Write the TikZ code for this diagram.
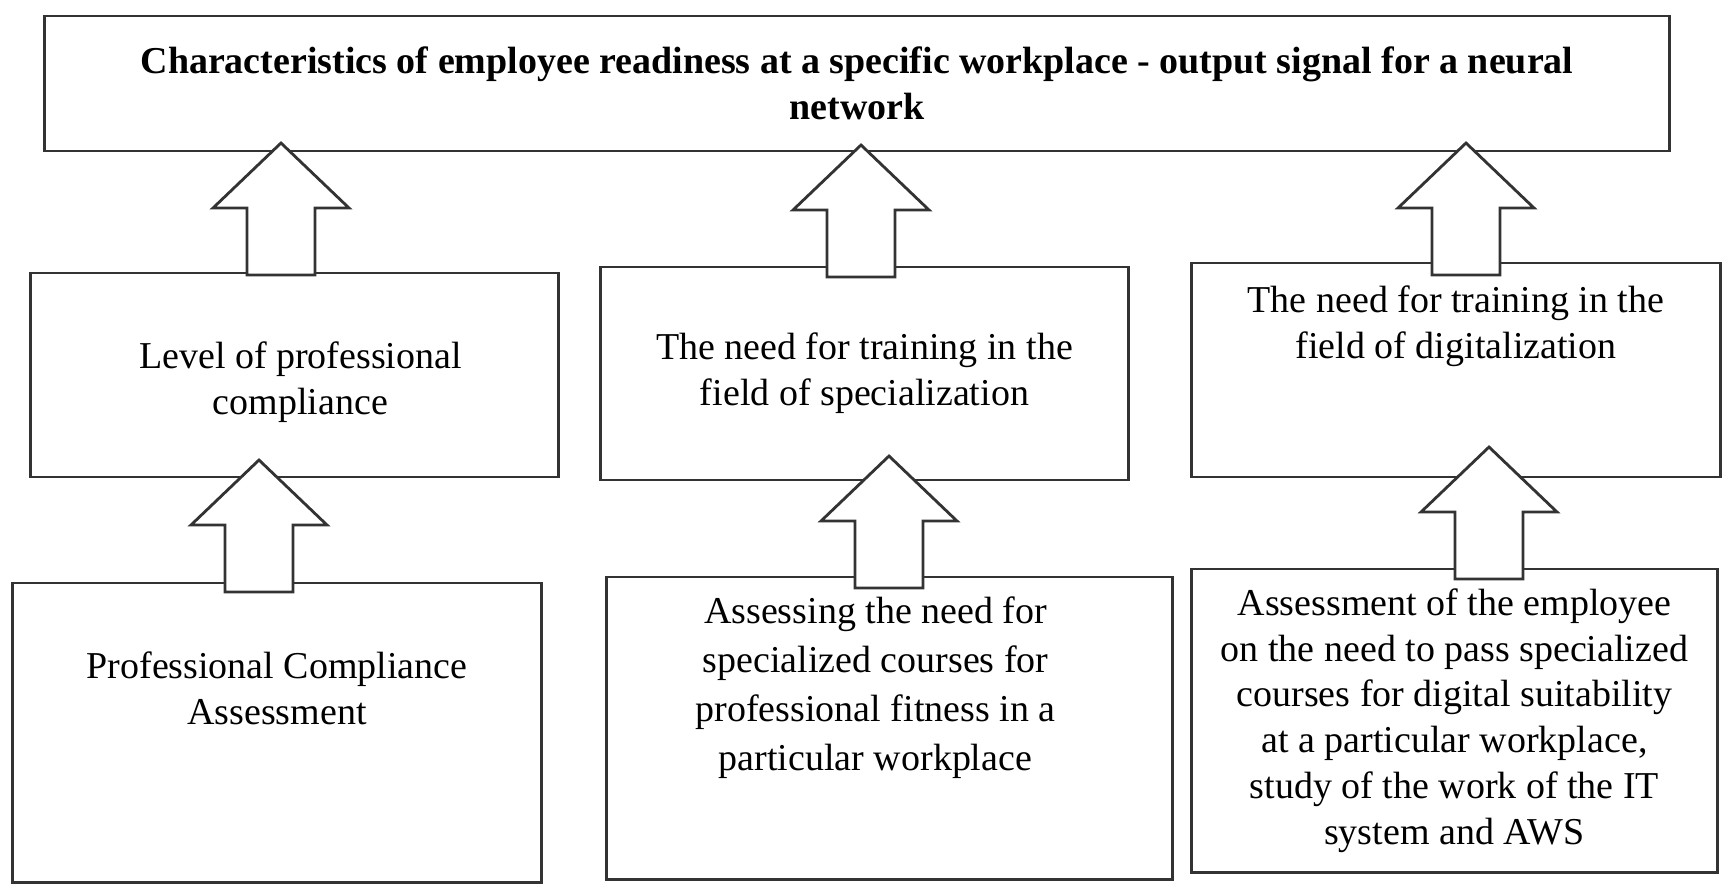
\documentclass[tikz,border=0pt]{standalone}
\usepackage{fontspec}
\setmainfont{Liberation Serif}

\tikzset{
  box/.style = {draw=black!80, line width=0.8pt, rectangle, inner sep=0pt,
                align=center, font=\fontsize{10.8}{13}\selectfont},
  boxtext/.style = {align=center, inner sep=0pt, font=\fontsize{10.8}{13}\selectfont},
  fatarrow/.style = {draw=black!80, line width=0.8pt, fill=white, line join=miter},
  blockup/.pic = {
    \draw[fatarrow] (0,0) -- (68,65) -- (34,65) -- (34,132) -- (-34,132)
      -- (-34,65) -- (-68,65) -- cycle;
  }
}

\begin{document}
\begin{tikzpicture}[x=0.01cm, y=-0.01cm]
\useasboundingbox (0,0) rectangle (1731,884);

% output signal
\node[box, minimum width=16.24cm, minimum height=1.35cm,
      font=\fontsize{10.8}{13}\selectfont\bfseries] (output) at (857,83.5)
  {Characteristics of employee readiness at a specific workplace - output signal for a neural\\ network};

% middle row
\node[box, minimum width=5.27cm, minimum height=2.04cm] (level) at (294.5,375) {};
\node[boxtext] (leveltext) at ([xshift=0.06cm, yshift=-0.07cm]level.center)
  {Level of professional\\ compliance};
\node[box, minimum width=5.27cm, minimum height=2.13cm] (special) at (864.5,373.5)
  {The need for training in the\\ field of specialization};
\node[box, minimum width=5.28cm, minimum height=2.14cm] (digital) at (1456,370) {};
\node[boxtext] (digitaltext) at ([yshift=-0.65cm]digital.north)
  {The need for training in the\\ field of digitalization};

% bottom row
\node[box, minimum width=5.28cm, minimum height=2.99cm] (profass) at (277,732.5) {};
\node[boxtext] (profasstext) at ([yshift=-1.07cm]profass.north)
  {Professional Compliance\\ Assessment};
\node[box, minimum width=5.65cm, minimum height=3.02cm] (specass) at (889.5,728) {};
\node[boxtext, font=\fontsize{10.8}{14}\selectfont] (specasstext)
  at ([xshift=-0.14cm, yshift=-1.12cm]specass.north)
  {Assessing the need for\\ specialized courses for\\ professional fitness in a\\ particular workplace};
\node[box, minimum width=5.25cm, minimum height=3.03cm] (digass) at (1454.5,720.5)
  {Assessment of the employee\\ on the need to pass specialized\\ courses for digital suitability\\
   at a particular workplace,\\ study of the work of the IT\\ system and AWS};

% arrows
\pic (up1) at (281,143) {blockup};
\pic (up2) at (259,460) {blockup};
\pic (up3) at (861,145) {blockup};
\pic (up4) at (889,456) {blockup};
\pic (up5) at (1466,143) {blockup};
\pic (up6) at (1489,447) {blockup};
\end{tikzpicture}
\end{document}
